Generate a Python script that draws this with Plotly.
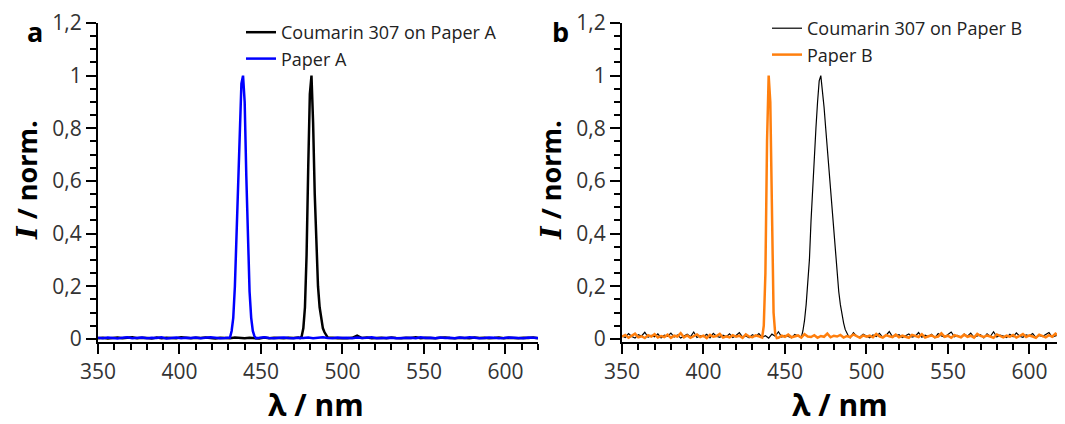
import plotly.graph_objects as go

# page body has an 8px margin, so the figure is 8px smaller and all pixel positions are offset by 8
OFF = 8
W, H = 1065 - OFF, 424 - OFF

# ---------------- data ----------------
# Panel a: baseline grid (nm) every 3 nm, 350..620
base_a_wl = list(range(350, 621, 3))
paperA_base = [0.004,0.002,0.005,0.003,0.001,0.004,0.006,0.002,0.003,0.005,
               0.002,0.004,0.003,0.006,0.001,0.003,0.005,0.002,0.004,0.003,
               0.005,0.002,0.003,0.006,0.004,0.002,0.003,0.005,0.004,0.002,
               0.003,0.005,0.002,0.004,0.006,0.003,0.002,0.004,0.005,0.003,
               0.002,0.004,0.003,0.005,0.002,0.004,0.006,0.003,0.002,0.005,
               0.003,0.004,0.002,0.005,0.003,0.004,0.006,0.002,0.003,0.005,
               0.004,0.002,0.003,0.005,0.004,0.002,0.006,0.003,0.004,0.002,
               0.005,0.003,0.004,0.002,0.005,0.003,0.006,0.004,0.002,0.003,
               0.005,0.004,0.002,0.003,0.005,0.004,0.003,0.002,0.005,0.004,
               0.003]
coumA_base = [0.002,0.004,0.001,0.003,0.005,0.002,0.003,0.006,0.002,0.004,
              0.003,0.001,0.005,0.002,0.004,0.003,0.002,0.006,0.003,0.002,
              0.004,0.003,0.005,0.002,0.001,0.004,0.003,0.002,0.005,0.003,
              0.002,0.004,0.003,0.001,0.005,0.002,0.004,0.003,0.002,0.004,
              0.003,0.005,0.002,0.004,0.003,0.002,0.005,0.003,0.004,0.002,
              0.003,0.002,0.004,0.012,0.003,0.005,0.002,0.003,0.004,0.002,
              0.005,0.003,0.002,0.004,0.003,0.006,0.002,0.004,0.003,0.002,
              0.004,0.005,0.003,0.002,0.004,0.003,0.002,0.005,0.003,0.004,
              0.002,0.003,0.005,0.002,0.004,0.003,0.002,0.004,0.003,0.005,
              0.002]
paperA_pk_wl = [431, 432, 433, 434, 435, 436, 437, 438, 439, 440, 441, 442, 443, 444, 445, 446, 447]
paperA_pk = [0.005, 0.03, 0.08, 0.20, 0.38, 0.60, 0.82, 0.97, 1.00, 0.90, 0.62, 0.36, 0.18, 0.08, 0.03, 0.01, 0.003]
coumA_pk_wl = [474, 475, 476, 477, 478, 479, 480, 481, 482, 483, 484, 485, 486, 487, 488, 489, 490, 491]
coumA_pk = [0.003, 0.01, 0.04, 0.12, 0.32, 0.65, 0.93, 1.00, 0.82, 0.55, 0.34, 0.20, 0.12, 0.07, 0.04, 0.025, 0.012, 0.005]

# Panel b: baseline grid (nm) every 2 nm, 350..620
base_b_wl = list(range(350, 621, 2))
paperB_base = [0.008,0.015,0.004,0.012,0.020,0.006,0.010,0.003,0.014,0.009,0.018,0.005,0.011,0.007,0.016,0.004,0.012,
               0.009,0.022,0.006,0.013,0.004,0.010,0.017,0.007,0.012,0.003,0.015,0.008,0.011,0.019,0.005,0.010,0.006,
               0.014,0.008,0.012,0.004,0.017,0.009,0.006,0.013,0.010,0.021,0.005,0.011,0.007,0.015,0.004,0.012,0.008,
               0.016,0.006,0.010,0.013,0.005,0.018,0.009,0.007,0.014,0.004,0.011,0.008,0.020,0.006,0.012,0.009,0.015,
               0.005,0.011,0.007,0.017,0.010,0.004,0.013,0.008,0.012,0.006,0.019,0.009,0.005,0.014,0.010,0.007,0.016,
               0.006,0.012,0.009,0.004,0.015,0.011,0.007,0.018,0.005,0.010,0.013,0.006,0.009,0.021,0.008,0.012,0.004,
               0.014,0.010,0.006,0.016,0.008,0.012,0.005,0.019,0.011,0.007,0.013,0.009,0.004,0.017,0.010,0.006,0.012,
               0.008,0.015,0.005,0.011,0.018,0.007,0.013,0.009,0.004,0.016,0.010,0.006,0.014,0.008,0.020,0.011,0.007]
coumB_base = [0.012,0.005,0.020,0.009,0.003,0.016,0.011,0.025,0.006,0.013,0.008,0.019,0.004,0.014,0.010,0.022,0.007,
              0.015,0.003,0.011,0.018,0.008,0.026,0.005,0.012,0.009,0.017,0.004,0.021,0.010,0.006,0.014,0.008,0.019,
              0.005,0.013,0.024,0.007,0.011,0.004,0.016,0.009,0.020,0.006,0.012,0.003,0.018,0.010,0.027,0.007,0.013,
              0.009,0.004,0.017,0.011,0.006,0.022,0.008,0.014,0.005,0.019,0.010,0.025,0.006,0.012,0.016,0.004,0.020,
              0.008,0.014,0.005,0.023,0.010,0.007,0.018,0.012,0.004,0.015,0.009,0.021,0.006,0.013,0.028,0.008,0.011,
              0.016,0.005,0.012,0.019,0.007,0.010,0.024,0.006,0.014,0.009,0.017,0.004,0.020,0.011,0.007,0.015,0.026,
              0.008,0.013,0.005,0.018,0.010,0.022,0.006,0.012,0.016,0.004,0.019,0.009,0.027,0.007,0.014,0.011,0.005,
              0.017,0.008,0.023,0.010,0.006,0.015,0.012,0.020,0.005,0.013,0.009,0.018,0.024,0.007,0.011,0.016,0.006]
paperB_pk_wl = [436, 437, 438, 439, 440, 441, 442, 443, 444, 445]
paperB_pk = [0.005, 0.05, 0.25, 0.75, 1.00, 0.90, 0.45, 0.10, 0.02, 0.003]
coumB_pk_wl = list(range(460, 491))
coumB_pk = [0.005, 0.03, 0.07, 0.13, 0.20, 0.30, 0.45, 0.58, 0.70, 0.80, 0.90, 0.98, 1.00, 0.95, 0.88, 0.80,
            0.72, 0.63, 0.55, 0.47, 0.39, 0.31, 0.24, 0.18, 0.13, 0.09, 0.06, 0.035, 0.02, 0.01, 0.004]

names_a = ["Coumarin 307 on Paper A", "Paper A"]
names_b = ["Coumarin 307 on Paper B", "Paper B"]
y_tickvals = [0, 0.2, 0.4, 0.6, 0.8, 1.0, 1.2]
y_ticktext = ["0", "0,2", "0,4", "0,6", "0,8", "1", "1,2"]


def merge(bwl, bval, pwl, pval):
    lo, hi = min(pwl), max(pwl)
    pts = [(w, v) for w, v in zip(bwl, bval) if w < lo or w > hi]
    pts += list(zip(pwl, pval))
    pts.sort()
    return [p[0] for p in pts], [p[1] for p in pts]


FONT = "Open Sans"
TICKCOL = "#333333"


def px_x(p):
    return (p - OFF) / W


def px_y(p):
    return 1 - (p - OFF) / H


fig = go.Figure()

x, y = merge(base_a_wl, coumA_base, coumA_pk_wl, coumA_pk)
fig.add_trace(go.Scatter(x=x, y=y, mode="lines", name=names_a[0], line=dict(color="black", width=2.5),
                         xaxis="x", yaxis="y", legend="legend", legendgroup="a1"))
x, y = merge(base_a_wl, paperA_base, paperA_pk_wl, paperA_pk)
fig.add_trace(go.Scatter(x=x, y=y, mode="lines", name=names_a[1], line=dict(color="#0000ff", width=2.5),
                         xaxis="x", yaxis="y", legend="legend", legendgroup="a2"))
x, y = merge(base_b_wl, coumB_base, coumB_pk_wl, coumB_pk)
fig.add_trace(go.Scatter(x=x, y=y, mode="lines", name=names_b[0], line=dict(color="black", width=1.2),
                         xaxis="x2", yaxis="y2", legend="legend2", legendgroup="b1"))
x, y = merge(base_b_wl, paperB_base, paperB_pk_wl, paperB_pk)
fig.add_trace(go.Scatter(x=x, y=y, mode="lines", name=names_b[1], line=dict(color="#ff7f0e", width=2.5),
                         xaxis="x2", yaxis="y2", legend="legend2", legendgroup="b2"))

ydom = [px_y(341.5), px_y(23)]
common_x = dict(range=[350, 620], tick0=350, dtick=50, ticks="outside", ticklen=10, tickwidth=2,
                tickcolor="black", showline=True, linecolor="black", linewidth=2, showgrid=False,
                zeroline=False, automargin=False, tickfont=dict(family=FONT, size=21, color=TICKCOL),
                minor=dict(dtick=10, tick0=350, ticks="outside", ticklen=6, tickwidth=2, tickcolor="black"))
common_y = dict(range=[-0.01, 1.2], tickvals=y_tickvals, ticktext=y_ticktext, ticks="outside", ticklen=10,
                tickwidth=2, tickcolor="black", showline=True, linecolor="black", linewidth=2, showgrid=False,
                zeroline=False, automargin=False, domain=ydom,
                tickfont=dict(family=FONT, size=21, color=TICKCOL),
                minor=dict(tickvals=[i * 0.05 for i in range(25)], ticks="outside", ticklen=6, tickwidth=2,
                           tickcolor="black"))

fig.update_layout(
    width=W, height=H, margin=dict(l=0, r=0, t=0, b=0, autoexpand=False),
    plot_bgcolor="white", paper_bgcolor="white",
    font=dict(family=FONT, color="#222222"),
    xaxis=dict(domain=[px_x(98), px_x(538)], anchor="y", **common_x),
    yaxis=dict(anchor="x", **common_y),
    xaxis2=dict(domain=[px_x(622), px_x(1062)], anchor="y2", **common_x),
    yaxis2=dict(anchor="x2", **common_y),
    legend=dict(x=px_x(241), y=px_y(14), xanchor="left", yanchor="top", bgcolor="rgba(0,0,0,0)",
                font=dict(family=FONT, size=18, color="#222222"), traceorder="grouped", tracegroupgap=0),
    legend2=dict(x=px_x(767), y=px_y(10), xanchor="left", yanchor="top", bgcolor="rgba(0,0,0,0)",
                 font=dict(family=FONT, size=18, color="#222222"), traceorder="grouped", tracegroupgap=0),
    showlegend=True,
)

ytitle = "<b><i><span style='font-family:DejaVu Serif'>I</span></i> / norm.</b>"
xtitle = "<b>λ / nm</b>"
ann = []
for cx, lbl, lx in [(316, "a", 35), (840, "b", 560)]:
    ann.append(dict(x=px_x(cx), y=px_y(404), xref="paper", yref="paper", text=xtitle, showarrow=False,
                    font=dict(family=FONT, size=30, color="black"), xanchor="center", yanchor="middle"))
    ann.append(dict(x=px_x(cx - 290), y=px_y(180), xref="paper", yref="paper", text=ytitle, showarrow=False,
                    textangle=-90, font=dict(family=FONT, size=27, color="black"), xanchor="center",
                    yanchor="middle"))
    ann.append(dict(x=px_x(lx), y=px_y(31), xref="paper", yref="paper", text="<b>" + lbl + "</b>",
                    showarrow=False, font=dict(family=FONT, size=27, color="black"), xanchor="center",
                    yanchor="middle"))
fig.update_layout(annotations=ann)

fig.write_html("out.html")
